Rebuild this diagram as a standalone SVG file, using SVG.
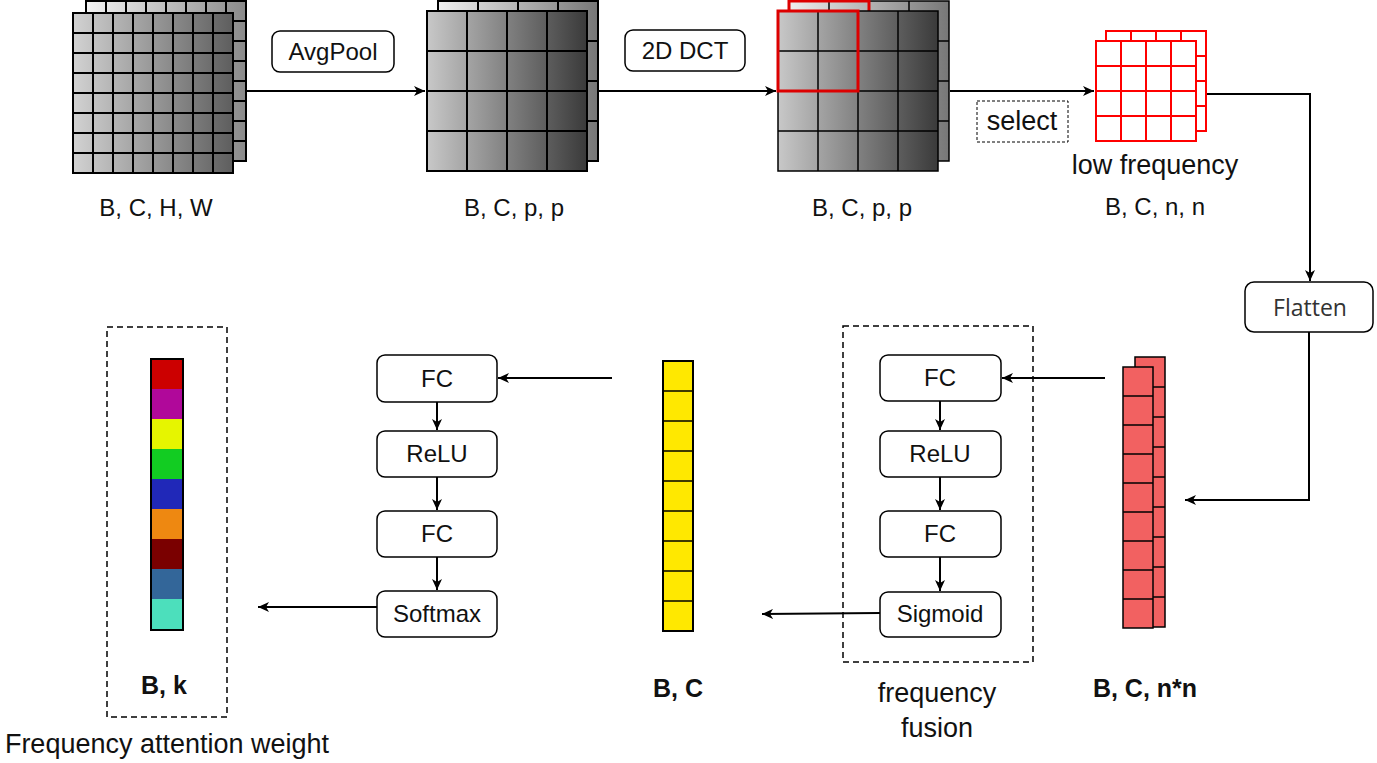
<svg xmlns="http://www.w3.org/2000/svg" width="1377" height="763" viewBox="0 0 1377 763">
<defs>
  <linearGradient id="gF1" x1="0" y1="0" x2="1" y2="0"><stop offset="0" stop-color="#d2d2d2"/><stop offset="1" stop-color="#5e5e5e"/></linearGradient>
  <linearGradient id="gB1" x1="0" y1="0" x2="1" y2="0"><stop offset="0" stop-color="#f4f4f4"/><stop offset="1" stop-color="#8a8a8a"/></linearGradient>
  <linearGradient id="gF2" x1="0" y1="0" x2="1" y2="0"><stop offset="0" stop-color="#c8c8c8"/><stop offset="1" stop-color="#3a3a3a"/></linearGradient>
  <linearGradient id="gB2" x1="0" y1="0" x2="1" y2="0"><stop offset="0" stop-color="#f0f0f0"/><stop offset="1" stop-color="#777777"/></linearGradient>
  <marker id="arr" markerUnits="userSpaceOnUse" markerWidth="12" markerHeight="10" viewBox="0 0 12 10" refX="11" refY="5" orient="auto">
    <path d="M0,0 L11,5 L0,10 L3,5 z" fill="#000"/>
  </marker>
</defs>
<style>
  .t { font-family: "Liberation Sans", Arial, sans-serif; font-size: 24px; fill: #111; text-anchor: middle; }
  .lg { font-size: 27px; }
  .b { font-weight: bold; font-size: 25px; }
  .box { fill: #fff; stroke: #000; stroke-width: 1.5; }
  .ln { fill: none; stroke: #000; stroke-width: 2; }
  .cn { fill: none; stroke: #000; stroke-width: 2; marker-end: url(#arr); }
  .dash { fill: none; stroke: #000; stroke-width: 1.5; stroke-dasharray: 6 4; }
  .red { fill: none; stroke: #ff0000; stroke-width: 2; }
</style>

<g id="connectors">
  <path class="cn" d="M246,91 H425"/>
  <path class="cn" d="M599,91 H776"/>
  <path class="cn" d="M950,91 H1094"/>
  <path class="cn" d="M1207,94 H1310 V281"/>
  <path class="cn" d="M1309,332 V500 H1185"/>
  <path class="cn" d="M1105,378 H1002"/>
  <path class="cn" d="M940,401 V430"/>
  <path class="cn" d="M940,477 V510"/>
  <path class="cn" d="M940,557 V591"/>
  <path class="cn" d="M880,613 L762,614"/>
  <path class="cn" d="M612,378 L498,378"/>
  <path class="cn" d="M437,402 V430"/>
  <path class="cn" d="M437,477 V510"/>
  <path class="cn" d="M437,557 V590"/>
  <path class="cn" d="M377,607 H258"/>
</g>

<g id="input-stack">
  <rect x="86" y="1" width="160" height="160" fill="url(#gB1)"/>
  <path class="ln" d="M86,1 H246 V161 H86 Z M106,1 V161 M126,1 V161 M146,1 V161 M166,1 V161 M186,1 V161 M206,1 V161 M226,1 V161 M86,21 H246 M86,41 H246 M86,61 H246 M86,81 H246 M86,101 H246 M86,121 H246 M86,141 H246"/>
  <rect x="73" y="13" width="160" height="160" fill="url(#gF1)"/>
  <path class="ln" d="M73,13 H233 V173 H73 Z M93,13 V173 M113,13 V173 M133,13 V173 M153,13 V173 M173,13 V173 M193,13 V173 M213,13 V173 M73,33 H233 M73,53 H233 M73,73 H233 M73,93 H233 M73,113 H233 M73,133 H233 M73,153 H233"/>
  <text class="t" x="156" y="216">B, C, H, W</text>
</g>

<g id="avgpool">
  <rect class="box" x="272" y="31" width="122" height="41" rx="8"/>
  <text class="t" x="333" y="60">AvgPool</text>
</g>

<g id="pooled-stack">
  <rect x="438" y="1" width="160" height="160" fill="url(#gB2)"/>
  <path class="ln" d="M438,1 H598 V161 H438 Z M478,1 V161 M518,1 V161 M558,1 V161 M438,41 H598 M438,81 H598 M438,121 H598"/>
  <rect x="427" y="11" width="160" height="160" fill="url(#gF2)"/>
  <path class="ln" d="M427,11 H587 V171 H427 Z M467,11 V171 M507,11 V171 M547,11 V171 M427,51 H587 M427,91 H587 M427,131 H587"/>
  <text class="t" x="514" y="216">B, C, p, p</text>
</g>

<g id="dct">
  <rect class="box" x="625" y="30" width="120" height="41" rx="8"/>
  <text class="t" x="685" y="59">2D DCT</text>
</g>

<g id="dct-stack">
  <rect x="789" y="1" width="160" height="160" fill="url(#gB2)"/>
  <path class="ln" style="stroke-width:1.5" d="M789,1 H949 V161 H789 Z M829,1 V161 M869,1 V161 M909,1 V161 M789,41 H949 M789,81 H949 M789,121 H949"/>
  <rect x="789" y="1" width="80" height="80" fill="none" stroke="#dd0000" stroke-width="3"/>
  <rect x="778" y="11" width="160" height="160" fill="url(#gF2)"/>
  <path class="ln" style="stroke-width:1.5" d="M778,11 H938 V171 H778 Z M818,11 V171 M858,11 V171 M898,11 V171 M778,51 H938 M778,91 H938 M778,131 H938"/>
  <rect x="778" y="11" width="80" height="80" fill="none" stroke="#dd0000" stroke-width="3"/>
  <text class="t" x="862" y="216">B, C, p, p</text>
</g>

<g id="select">
  <rect x="977" y="101" width="91" height="41" fill="none" stroke="#000" stroke-width="1" stroke-dasharray="3 2"/>
  <text class="t lg" x="1022" y="130">select</text>
</g>

<g id="low-frequency">
  <rect x="1106" y="31" width="100" height="100" fill="#fff"/>
  <path class="red" d="M1106,31 H1206 V131 H1106 Z M1131,31 V131 M1156,31 V131 M1181,31 V131 M1106,56 H1206 M1106,81 H1206 M1106,106 H1206"/>
  <rect x="1096" y="41" width="100" height="100" fill="#fff"/>
  <path class="red" d="M1096,41 H1196 V141 H1096 Z M1121,41 V141 M1146,41 V141 M1171,41 V141 M1096,66 H1196 M1096,91 H1196 M1096,116 H1196"/>
  <text class="t lg" x="1155" y="174">low frequency</text>
  <text class="t" x="1155" y="215">B, C, n, n</text>
</g>

<g id="flatten">
  <rect class="box" x="1245" y="282" width="128" height="50" rx="9"/>
  <text x="1310" y="316" style="font-family:'Open Sans','Noto Sans',sans-serif;font-size:23px;fill:#333;text-anchor:middle">Flatten</text>
</g>

<g id="flattened-stack">
  <rect x="1135" y="357" width="30" height="270" fill="#f26161" stroke="#000" stroke-width="1.5"/>
  <path class="ln" style="stroke-width:1.5" d="M1135,387 H1165 M1135,417 H1165 M1135,447 H1165 M1135,477 H1165 M1135,507 H1165 M1135,537 H1165 M1135,567 H1165 M1135,597 H1165"/>
  <rect x="1123" y="367" width="30" height="261" fill="#f26161" stroke="#000" stroke-width="1.5"/>
  <path class="ln" style="stroke-width:1.5" d="M1123,396 H1153 M1123,425 H1153 M1123,454 H1153 M1123,483 H1153 M1123,512 H1153 M1123,541 H1153 M1123,570 H1153 M1123,599 H1153"/>
  <text class="t b" x="1145" y="697">B, C, n*n</text>
</g>

<g id="frequency-fusion">
  <rect class="dash" x="843" y="326" width="190" height="336"/>
  <rect class="box" x="880" y="355" width="121" height="46" rx="8"/>
  <text class="t" x="940" y="386">FC</text>
  <rect class="box" x="880" y="431" width="121" height="46" rx="8"/>
  <text class="t" x="940" y="462">ReLU</text>
  <rect class="box" x="880" y="511" width="121" height="46" rx="8"/>
  <text class="t" x="940" y="542">FC</text>
  <rect class="box" x="880" y="592" width="121" height="45" rx="8"/>
  <text class="t" x="940" y="622">Sigmoid</text>
  <text class="t lg" x="937" y="702">frequency</text>
  <text class="t lg" x="937" y="737">fusion</text>
</g>

<g id="fused-vector">
  <rect x="663" y="361" width="30" height="270" fill="#ffe800" stroke="#000" stroke-width="2"/>
  <path class="ln" style="stroke-width:1.5" d="M663,391 H693 M663,421 H693 M663,451 H693 M663,481 H693 M663,511 H693 M663,541 H693 M663,571 H693 M663,601 H693"/>
  <text class="t b" x="678" y="697">B, C</text>
</g>

<g id="attention-mlp">
  <rect class="box" x="377" y="355" width="120" height="47" rx="8"/>
  <text class="t" x="437" y="387">FC</text>
  <rect class="box" x="377" y="431" width="120" height="46" rx="8"/>
  <text class="t" x="437" y="462">ReLU</text>
  <rect class="box" x="377" y="511" width="120" height="46" rx="8"/>
  <text class="t" x="437" y="542">FC</text>
  <rect class="box" x="377" y="591" width="120" height="46" rx="8"/>
  <text class="t" x="437" y="622">Softmax</text>
</g>

<g id="attention-weight">
  <rect class="dash" x="107" y="327" width="120" height="390"/>
  <rect x="151" y="359" width="32" height="30" fill="#cc0000"/>
  <rect x="151" y="389" width="32" height="30" fill="#b0089a"/>
  <rect x="151" y="419" width="32" height="30" fill="#e6f500"/>
  <rect x="151" y="449" width="32" height="30" fill="#12cc22"/>
  <rect x="151" y="479" width="32" height="30" fill="#2028b8"/>
  <rect x="151" y="509" width="32" height="30" fill="#ee8811"/>
  <rect x="151" y="539" width="32" height="30" fill="#7a0000"/>
  <rect x="151" y="569" width="32" height="30" fill="#336699"/>
  <rect x="151" y="599" width="32" height="31" fill="#4cdfbc"/>
  <rect x="151" y="359" width="32" height="271" fill="none" stroke="#000" stroke-width="2"/>
  <text class="t b" x="164" y="694">B, k</text>
  <text class="t lg" x="167" y="753">Frequency attention weight</text>
</g>
</svg>
